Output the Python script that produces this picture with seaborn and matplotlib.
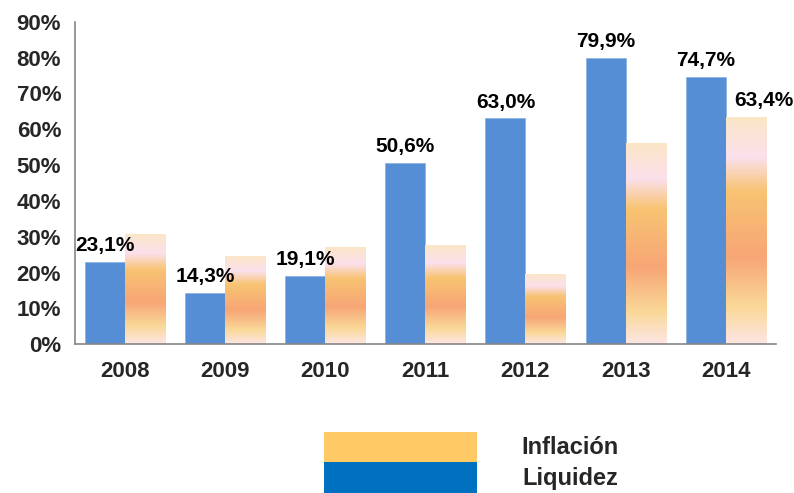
import numpy as np
import pandas as pd
import matplotlib
matplotlib.use("Agg")
import matplotlib.pyplot as plt
from matplotlib.colors import LinearSegmentedColormap
from matplotlib.patches import Rectangle
import seaborn as sns

years = ["2008", "2009", "2010", "2011", "2012", "2013", "2014"]
liquidez = [23.1, 14.3, 19.1, 50.6, 63.0, 79.9, 74.7]
inflacion = [30.8, 24.7, 27.1, 27.6, 19.6, 56.1, 63.4]
series_names = ["Liquidez", "Inflación"]
y_ticks = [0, 10, 20, 30, 40, 50, 60, 70, 80, 90]

df = pd.DataFrame({
    "year": years * 2,
    "serie": ["Liquidez"] * len(years) + ["Inflación"] * len(years),
    "value": liquidez + inflacion,
})

sns.set_style("white")
plt.rcParams["font.family"] = ["Liberation Sans", "DejaVu Sans"]

fig = plt.figure(figsize=(7.94, 4.93), dpi=100)
ax = fig.add_axes([0.0945, 0.3016, 0.8825, 0.6544])

sns.barplot(data=df, x="year", y="value", hue="serie", hue_order=series_names,
            palette={"Liquidez": "#558ED5", "Inflación": "white"},
            width=0.8, gap=0, ax=ax, legend=False, saturation=1,
            errorbar=None)

# style blue bars
for p in ax.containers[0]:
    p.set_edgecolor("#8DB3E2")
    p.set_linewidth(0.6)

# gradient fill for inflation bars
stops = [(0.0, "#FBE6C6"), (0.18, "#FBE0EC"), (0.33, "#F8C372"),
         (0.62, "#F7A676"), (0.84, "#FAD898"), (1.0, "#FDE6E4")]
cmap = LinearSegmentedColormap.from_list("grad", stops)
grad = np.linspace(0, 1, 256).reshape(-1, 1)
for p in ax.containers[1]:
    p.set_facecolor("none")
    p.set_edgecolor("none")
    x0, y0 = p.get_x(), p.get_y()
    w, h = p.get_width(), p.get_height()
    im = ax.imshow(grad, cmap=cmap, aspect="auto", extent=[x0, x0 + w, y0, y0 + h],
                   origin="upper", zorder=2, interpolation="bilinear")
    im.set_clip_path(p)

ax.set_xlim(-0.5, len(years) - 0.5)
ax.set_ylim(0, 90)

# value labels
def fmt(v):
    return f"{v:.1f}%".replace(".", ",")

for p, v in zip(ax.containers[0], liquidez):
    ax.annotate(fmt(v), (p.get_x() + p.get_width() / 2, p.get_height()),
                xytext=(0, 5), textcoords="offset points", ha="center", va="bottom",
                fontsize=15, fontweight="bold", color="black")
last = ax.containers[1][len(years) - 1]
ax.annotate(fmt(inflacion[-1]), (last.get_x() + last.get_width() / 2, last.get_height()),
            xytext=(13, 5), textcoords="offset points", ha="center", va="bottom",
            fontsize=15, fontweight="bold", color="black")

# axes styling
ax.set_xlabel("")
ax.set_ylabel("")
ax.set_yticks(y_ticks)
ax.set_yticklabels([f"{t}%" for t in y_ticks], fontsize=16, fontweight="bold")
ax.set_xticks(range(len(years)))
ax.set_xticklabels(years, fontsize=16, fontweight="bold")
ax.set_xticks(np.arange(-0.5, len(years), 1.0), minor=True)
ax.tick_params(axis="x", which="major", length=0, pad=12)
ax.tick_params(axis="x", which="minor", length=6, width=1.2, color="#868686", direction="out")
ax.tick_params(axis="y", which="major", length=6, width=1.2, color="#868686", direction="out", pad=4)
for s in ["top", "right"]:
    ax.spines[s].set_visible(False)
for s in ["left", "bottom"]:
    ax.spines[s].set_color("#868686")
    ax.spines[s].set_linewidth(1.2)
ax.grid(False)

# legend (manual, below chart)
W, H = 794, 493
fig.patches.append(Rectangle((324 / W, 1 - 462 / H), 153 / W, 30 / H,
                             transform=fig.transFigure, facecolor="#FFC966", edgecolor="none"))
fig.patches.append(Rectangle((324 / W, 1 - 493 / H), 153 / W, 31 / H,
                             transform=fig.transFigure, facecolor="#0070C0", edgecolor="none"))
fig.text(570 / W, 1 - 447 / H, series_names[1], ha="center", va="center",
         fontsize=17, fontweight="bold")
fig.text(570 / W, 1 - 478 / H, series_names[0], ha="center", va="center",
         fontsize=17, fontweight="bold")

fig.savefig("out.png", dpi=100)
